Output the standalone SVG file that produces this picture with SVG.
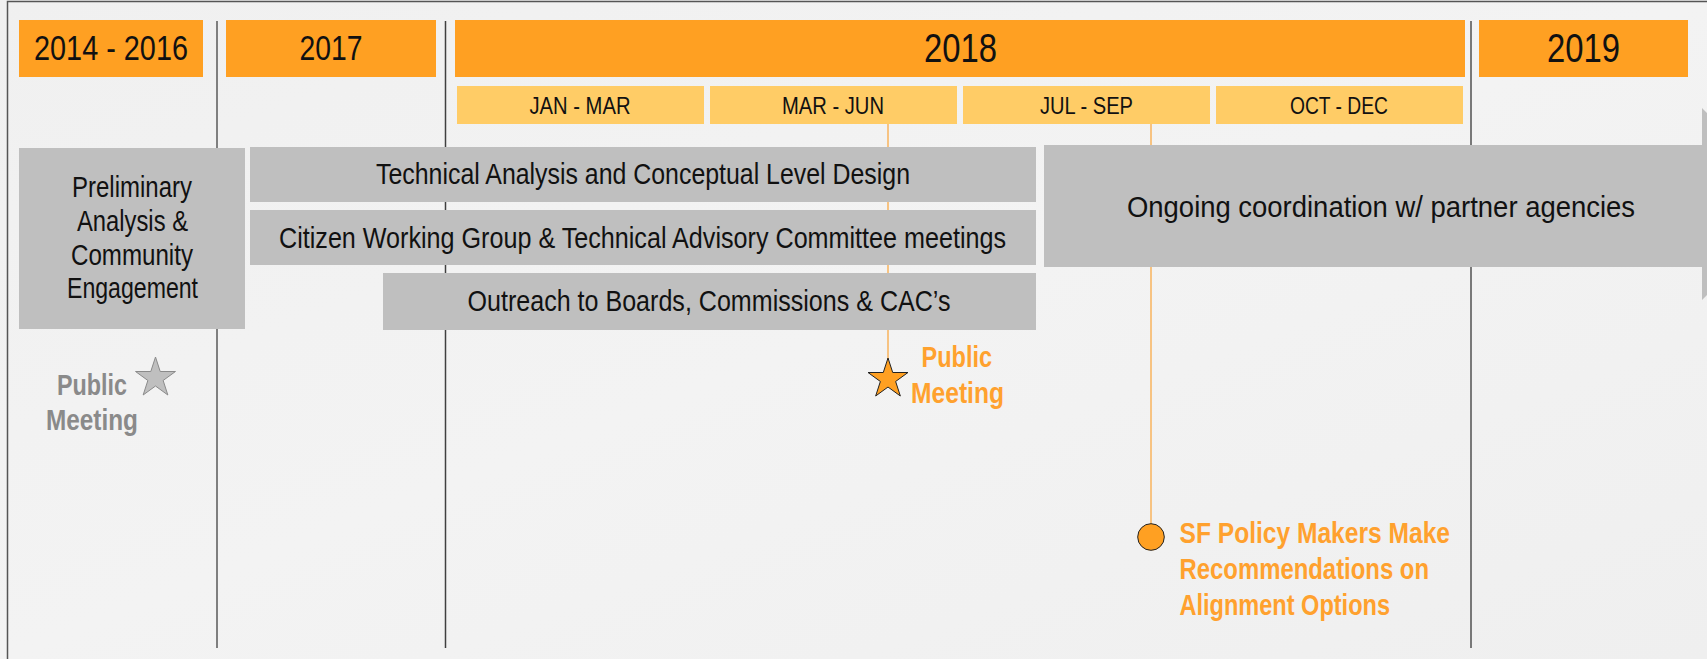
<svg xmlns="http://www.w3.org/2000/svg" width="1707" height="659" viewBox="0 0 1707 659">
<style>
.t{font-family:"Liberation Sans Narrow","Liberation Sans",Arial,sans-serif;fill:#111;}
.yr{fill:#ffa022;}
.qt{fill:#ffcc66;}
.bar{fill:#bfbfbf;}
.mid{text-anchor:middle;}
.b{font-weight:bold;}
.sep{stroke-linecap:butt;}
.conn{stroke:#f9b35c;stroke-width:1.5;fill:none;}
</style>
<defs>
<linearGradient id="bg" x1="0" y1="0" x2="1" y2="1">
<stop offset="0" stop-color="#f0f0f0"/>
<stop offset="0.5" stop-color="#f3f3f3"/>
<stop offset="1" stop-color="#efefef"/>
</linearGradient>
<path id="star" d="M0,-21 L4.71,-6.49 L19.97,-6.49 L7.63,2.48 L12.34,16.99 L0,8.02 L-12.34,16.99 L-7.63,2.48 L-19.97,-6.49 L-4.71,-6.49 Z"/>
</defs>
<rect x="0" y="0" width="1707" height="659" fill="url(#bg)"/>
<path d="M7.5,659 V1.5 H1707" fill="none" stroke="#555" stroke-width="1.5"/>

<g id="separators">
<line class="sep" x1="217" y1="21" x2="217" y2="648" stroke="#7f7f7f" stroke-width="2"/>
<line class="sep" x1="445.5" y1="21" x2="445.5" y2="648" stroke="#404040" stroke-width="1.5"/>
<line class="sep" x1="1471" y1="21" x2="1471" y2="648" stroke="#505050" stroke-width="1.5"/>
</g>

<g id="connectors">
<line class="conn" x1="888" y1="124" x2="888" y2="360"/>
<line class="conn" x1="1151" y1="124" x2="1151" y2="524"/>
</g>

<g id="year-2014-2016"><rect class="yr" x="19" y="20" width="184" height="57"/><text class="t mid" x="111" y="60" font-size="35" textLength="154" lengthAdjust="spacingAndGlyphs">2014 - 2016</text></g>
<g id="year-2017"><rect class="yr" x="226" y="20" width="210" height="57"/><text class="t mid" x="331" y="60" font-size="35" textLength="63" lengthAdjust="spacingAndGlyphs">2017</text></g>
<g id="year-2018"><rect class="yr" x="455" y="20" width="1010" height="57"/><text class="t mid" x="960.5" y="62" font-size="40" textLength="73" lengthAdjust="spacingAndGlyphs">2018</text></g>
<g id="year-2019"><rect class="yr" x="1479" y="20" width="209" height="57"/><text class="t mid" x="1583.5" y="62" font-size="40" textLength="73" lengthAdjust="spacingAndGlyphs">2019</text></g>

<g id="q-jan-mar"><rect class="qt" x="457" y="86" width="247" height="38"/><text class="t mid" x="580" y="114" font-size="24" textLength="101" lengthAdjust="spacingAndGlyphs">JAN - MAR</text></g>
<g id="q-mar-jun"><rect class="qt" x="710" y="86" width="247" height="38"/><text class="t mid" x="833" y="114" font-size="24" textLength="102" lengthAdjust="spacingAndGlyphs">MAR - JUN</text></g>
<g id="q-jul-sep"><rect class="qt" x="963" y="86" width="247" height="38"/><text class="t mid" x="1086.5" y="114" font-size="24" textLength="93" lengthAdjust="spacingAndGlyphs">JUL - SEP</text></g>
<g id="q-oct-dec"><rect class="qt" x="1216" y="86" width="247" height="38"/><text class="t mid" x="1339" y="114" font-size="24" textLength="98" lengthAdjust="spacingAndGlyphs">OCT - DEC</text></g>

<g id="preliminary"><rect class="bar" x="19" y="148" width="226" height="181"/>
<text class="t mid" font-size="29"><tspan x="132" y="197" textLength="120" lengthAdjust="spacingAndGlyphs">Preliminary</tspan></text>
<text class="t mid" font-size="29"><tspan x="132.5" y="231" textLength="111" lengthAdjust="spacingAndGlyphs">Analysis &amp;</tspan></text>
<text class="t mid" font-size="29"><tspan x="132" y="265" textLength="122" lengthAdjust="spacingAndGlyphs">Community</tspan></text>
<text class="t mid" font-size="29"><tspan x="132.5" y="298" textLength="131" lengthAdjust="spacingAndGlyphs">Engagement</tspan></text>
</g>
<g id="technical"><rect class="bar" x="250" y="147" width="786" height="55"/><text class="t mid" x="643" y="184" font-size="29" textLength="534" lengthAdjust="spacingAndGlyphs">Technical Analysis and Conceptual Level Design</text></g>
<g id="citizen"><rect class="bar" x="250" y="210" width="786" height="55"/><text class="t mid" x="642.5" y="248" font-size="29" textLength="727" lengthAdjust="spacingAndGlyphs">Citizen Working Group &amp; Technical Advisory Committee meetings</text></g>
<g id="outreach"><rect class="bar" x="383" y="273" width="653" height="57"/><text class="t mid" x="709" y="311" font-size="29" textLength="483" lengthAdjust="spacingAndGlyphs">Outreach to Boards, Commissions &amp; CAC’s</text></g>
<g id="ongoing"><path class="bar" d="M1044,145 H1702 V108 L1798,204 L1702,300 V267 H1044 Z"/><text class="t mid" x="1381" y="217" font-size="30" textLength="508" lengthAdjust="spacingAndGlyphs">Ongoing coordination w/ partner agencies</text></g>

<g id="public-meeting-2014">
<use href="#star" transform="translate(155.5,378)" fill="#bfbfbf" stroke="#8a8a8a" stroke-width="1"/>
<text class="t b" x="57" y="395" font-size="29" textLength="70" lengthAdjust="spacingAndGlyphs" style="fill:#8a8a8a">Public</text>
<text class="t b" x="46" y="430" font-size="29" textLength="92" lengthAdjust="spacingAndGlyphs" style="fill:#8a8a8a">Meeting</text>
</g>
<g id="public-meeting-2018">
<use href="#star" transform="translate(888,379)" fill="#ffa022" stroke="#222" stroke-width="1"/>
<text class="t b" x="921.5" y="367" font-size="29" textLength="70.5" lengthAdjust="spacingAndGlyphs" style="fill:#ffa12e">Public</text>
<text class="t b" x="911" y="403" font-size="29" textLength="93" lengthAdjust="spacingAndGlyphs" style="fill:#ffa12e">Meeting</text>
</g>
<g id="sf-policy">
<circle cx="1151" cy="537" r="13.3" fill="#ffa022" stroke="#222" stroke-width="1"/>
<text class="t b" x="1179.5" y="543" font-size="29" textLength="270.5" lengthAdjust="spacingAndGlyphs" style="fill:#ffa12e">SF Policy Makers Make</text>
<text class="t b" x="1179.5" y="579" font-size="29" textLength="249.5" lengthAdjust="spacingAndGlyphs" style="fill:#ffa12e">Recommendations on</text>
<text class="t b" x="1179.5" y="615" font-size="29" textLength="210.5" lengthAdjust="spacingAndGlyphs" style="fill:#ffa12e">Alignment Options</text>
</g>
</svg>
